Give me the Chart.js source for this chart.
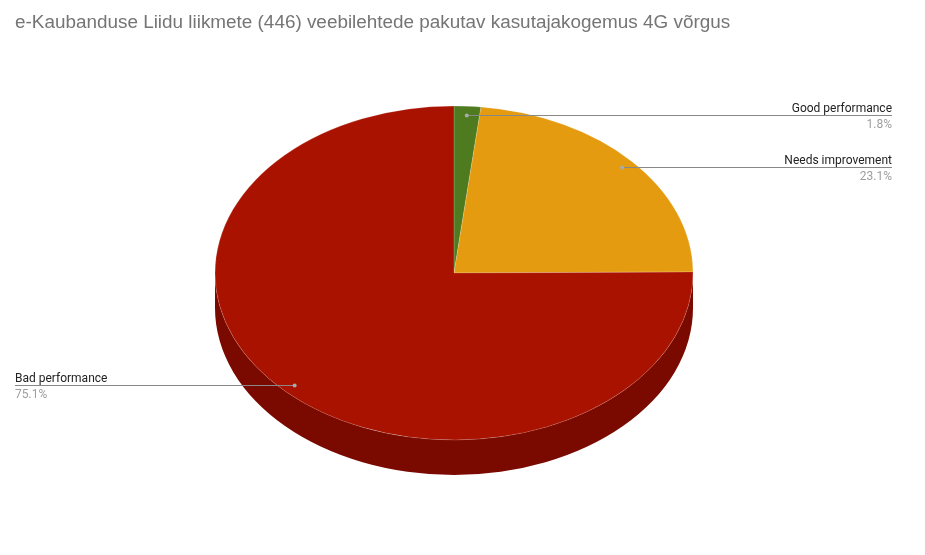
<!DOCTYPE html>
<html lang="et">
<head>
<meta charset="UTF-8">
<title>e-Kaubanduse Liidu liikmete veebilehtede kasutajakogemus</title>
<script src="https://cdn.jsdelivr.net/npm/chart.js"></script>
<style>
  html, body { margin: 0; padding: 0; background: #fff; }
  #wrap { width: 925px; height: 555px; }
</style>
</head>
<body>
<div id="wrap"><canvas id="pie"></canvas></div>
<script>
const categories = ['Good performance', 'Needs improvement', 'Bad performance'];
const shares = [1.8, 23.1, 75.1];
const sliceColors = ['#4e7b20', '#e59b10', '#aa1200'];
const sideColors = ['#36560f', '#a06b08', '#7a0900'];

// where the flattened pie goes on screen
const pieBox = { cx: 454, cy: 273, rx: 239, ry: 167, depth: 35 };

function toScreen(arc, px, py) {
  const R = arc.outerRadius;
  return {
    x: pieBox.cx + (px - arc.x) * pieBox.rx / R,
    y: pieBox.cy + (py - arc.y) * pieBox.ry / R
  };
}

const tiltPlugin = {
  id: 'tilt',
  beforeDatasetsDraw(chart) {
    const ctx = chart.ctx;
    const arcs = chart.getDatasetMeta(0).data;
    const a0 = arcs[0];
    const R = a0.outerRadius;
    ctx.save();
    ctx.translate(pieBox.cx, pieBox.cy);
    ctx.scale(pieBox.rx / R, pieBox.ry / R);
    ctx.translate(-a0.x, -a0.y);

    // side wall: only the front half (0..PI) is visible
    const d = pieBox.depth * R / pieBox.ry;
    arcs.forEach((arc, i) => {
      for (let k = -1; k <= 1; k++) {
        const s = Math.max(arc.startAngle + k * 2 * Math.PI, 0);
        const e = Math.min(arc.endAngle + k * 2 * Math.PI, Math.PI);
        if (e <= s) continue;
        ctx.beginPath();
        ctx.arc(arc.x, arc.y, R, s, e);
        ctx.arc(arc.x, arc.y + d, R, e, s, true);
        ctx.closePath();
        ctx.fillStyle = sideColors[i];
        ctx.fill();
      }
    });
  },
  afterDatasetsDraw(chart) {
    chart.ctx.restore();
  }
};

const labelPlugin = {
  id: 'leaderLabels',
  afterDraw(chart) {
    const ctx = chart.ctx;
    const arcs = chart.getDatasetMeta(0).data;
    const total = shares.reduce((s, v) => s + v, 0);
    ctx.save();
    arcs.forEach((arc, i) => {
      const mid = (arc.startAngle + arc.endAngle) / 2;
      const f = 0.946 * arc.outerRadius;
      const p = toScreen(arc, arc.x + f * Math.cos(mid), arc.y + f * Math.sin(mid));
      const right = p.x > pieBox.cx;
      const x0 = right ? p.x : 15;
      const x1 = right ? 892 : p.x;
      const y = Math.round(p.y) + 0.5;

      ctx.strokeStyle = '#888888';
      ctx.lineWidth = 1;
      ctx.beginPath();
      ctx.moveTo(x0, y);
      ctx.lineTo(x1, y);
      ctx.stroke();

      ctx.fillStyle = '#aaaaaa';
      ctx.beginPath();
      ctx.arc(p.x, y, 2, 0, 2 * Math.PI);
      ctx.fill();

      ctx.textAlign = right ? 'right' : 'left';
      ctx.textBaseline = 'alphabetic';
      const tx = right ? 892 : 15;
      ctx.font = '12px Roboto';
      ctx.fillStyle = '#222222';
      ctx.fillText(categories[i], tx, y - 4);
      ctx.fillStyle = '#9e9e9e';
      ctx.fillText((shares[i] / total * 100).toFixed(1) + '%', tx, y + 12);
    });
    ctx.restore();
  }
};

new Chart(document.getElementById('pie'), {
  type: 'pie',
  data: {
    labels: categories,
    datasets: [{
      data: shares,
      backgroundColor: sliceColors,
      borderColor: 'rgba(255,255,255,0.35)',
      borderWidth: 0.6
    }]
  },
  options: {
    responsive: true,
    maintainAspectRatio: false,
    animation: false,
    events: [],
    layout: { padding: { left: 15, right: 15, top: 0, bottom: 20 } },
    plugins: {
      legend: { display: false },
      tooltip: { enabled: false },
      title: {
        display: true,
        text: 'e-Kaubanduse Liidu liikmete (446) veebilehtede pakutav kasutajakogemus 4G võrgus',
        align: 'start',
        color: '#757575',
        font: { family: 'Arial, "Liberation Sans"', size: 18.9, weight: 'normal' },
        padding: { top: 11, bottom: 10 }
      }
    }
  },
  plugins: [tiltPlugin, labelPlugin]
});
</script>
</body>
</html>
